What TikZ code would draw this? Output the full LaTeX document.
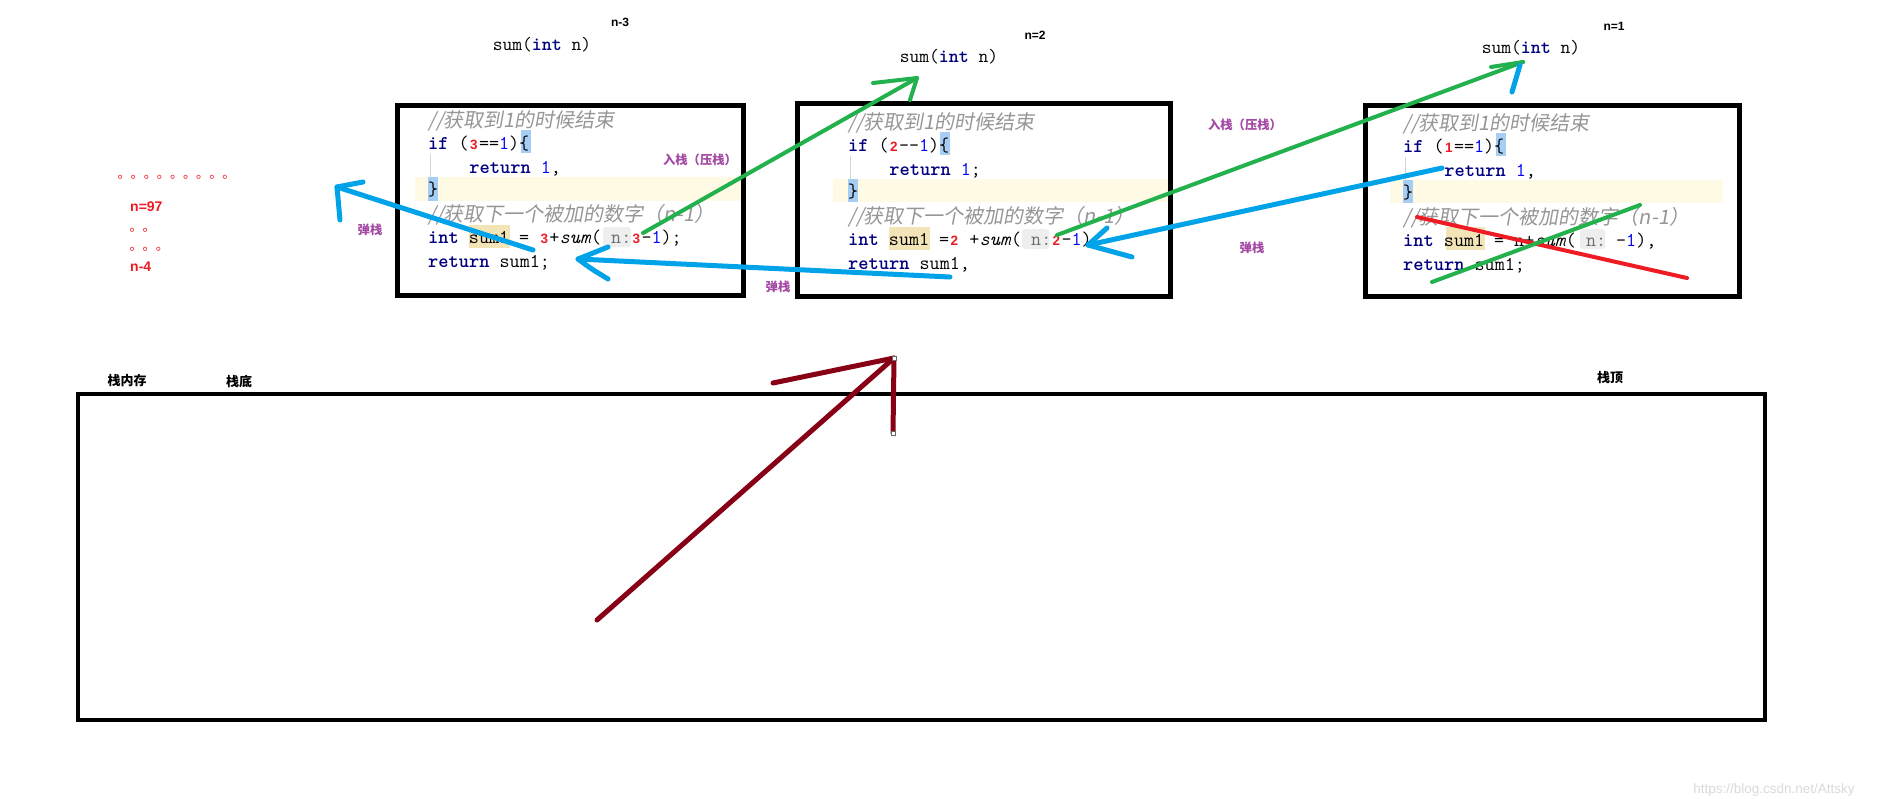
\documentclass[tikz,border=0pt]{standalone}
\usepackage{fontspec}
\newfontfamily\cjk{Noto Sans CJK SC}[FakeSlant=0.18]
\newfontfamily\cjkb{Noto Sans CJK SC}
\newfontfamily\lsans{Liberation Sans}
\newfontfamily\kwf{lmmonolt10-bold.otf}
\definecolor{kwc}{RGB}{0,0,128}
\definecolor{numc}{RGB}{0,0,255}
\definecolor{redc}{RGB}{237,28,36}
\definecolor{cmtc}{RGB}{150,150,150}
\definecolor{hintc}{RGB}{110,110,110}
\definecolor{hintbg}{RGB}{238,238,238}
\definecolor{tanc}{RGB}{242,228,183}
\definecolor{bandc}{RGB}{255,250,227}
\definecolor{bluehl}{RGB}{166,206,245}
\definecolor{guidec}{RGB}{215,215,215}
\definecolor{pgreen}{RGB}{34,177,76}
\definecolor{pblue}{RGB}{0,162,232}
\definecolor{pdred}{RGB}{136,0,21}
\definecolor{ppurple}{RGB}{163,73,164}
\definecolor{wmc}{RGB}{218,218,218}
\newcommand\codefont{\ttfamily\fontsize{19.5}{20}\selectfont}
\newcommand\kw[1]{{\kwf\textcolor{kwc}{#1}}}
\newcommand\nm[1]{\textcolor{numc}{#1}}
\newcommand\hint[1]{\textcolor{hintc}{#1}}
\newcommand\rd[1]{\makebox[0.525em]{\textcolor{redc}{\lsans\bfseries\fontsize{13.5}{13}\selectfont #1}}}
\begin{document}
\begin{tikzpicture}[x=1pt,y=-1pt,
  code/.style={anchor=base west, inner sep=0pt, font=\codefont, text=black},
  cmt/.style={anchor=base west, inner sep=0pt, font=\cjk\fontsize{20}{20}\selectfont, text=cmtc},
  frame/.style={draw=black, line width=5pt, inner sep=0pt},
  sig/.style={inner sep=0pt, font=\ttfamily\fontsize{19}{19}\selectfont},
  nlab/.style={inner sep=0pt, font=\lsans\bfseries\fontsize{12}{12}\selectfont},
  rlab/.style={anchor=west, inner sep=0pt, font=\lsans\bfseries\fontsize{14}{14}\selectfont, text=redc},
  dots/.style={anchor=base west, inner sep=0pt, font=\cjkb\fontsize{13.1}{13}\selectfont, text=redc},
  plab/.style={inner sep=0pt, font=\cjkb\bfseries\fontsize{12.3}{13}\selectfont, text=ppurple},
  blab/.style={inner sep=0pt, font=\cjkb\bfseries\fontsize{13}{13}\selectfont, text=black},
  stroke/.style={line width=4.5pt, line cap=round, line join=round},
  gstroke/.style={stroke, draw=pgreen, line width=4pt},
  bstroke/.style={stroke, draw=pblue, line width=5pt},
  dstroke/.style={stroke, draw=pdred, line width=5pt},
  rstroke/.style={stroke, draw=redc, line width=4pt},
  handle/.style={draw=black!60, fill=white, line width=0.8pt, minimum size=4pt, inner sep=0pt}
]
\useasboundingbox (0,0) rectangle (1877,798);
\fill[white] (0,0) rectangle (1877,798);

% ---------- box 1 content ----------
\begin{scope}[shift={(428,0)}]
 \fill[bandc] (-13,177) rectangle (315,201);
 \fill[bluehl] (0,177) rectangle (10.3,201);
 \fill[bluehl] (92.7,130) rectangle (103,153);
 \draw[guidec, line width=1pt] (2,154) -- (2,177);
 \fill[tanc] (41.2,225) rectangle (82.4,248);
 \fill[hintbg, rounded corners=3pt] (175,227) rectangle (203,247);
 \node[cmt]  (a1) at (0,127) {//获取到1的时候结束};
 \node[code] (a2) at (0,149) {\kw{if} (\rd{3}==\nm{1})\{};
 \node[code] (a3) at (41.2,173) {\kw{return} \nm{1},};
 \node[code] (a4) at (0,195) {\}};
 \node[cmt]  (a5) at (0,221) {//获取下一个被加的数字（n-1）};
 \node[code] (a6) at (0,243) {\kw{int} sum1 = \rd{3}+\textit{sum}(\hint{\ n:}\rd{3}-\nm{1});};
 \node[code] (a7) at (0,267) {\kw{return} sum1;};
\end{scope}

% ---------- box 2 content ----------
\begin{scope}[shift={(848,2)}]
 \fill[bandc] (-15,177) rectangle (320,200);
 \fill[bluehl] (0,177) rectangle (10.3,200);
 \fill[bluehl] (91.5,130) rectangle (101.8,153);
 \draw[guidec, line width=1pt] (2,154) -- (2,177);
 \fill[tanc] (41.2,225) rectangle (82.4,248);
 \fill[hintbg, rounded corners=3pt] (174,227) rectangle (201,247);
 \node[cmt]  (c1) at (0,127) {//获取到1的时候结束};
 \node[code] (c2) at (0,149) {\kw{if} (\rd{2}-{}-\nm{1})\{};
 \node[code] (c3) at (41.2,173) {\kw{return} \nm{1};};
 \node[code] (c4) at (0,195) {\}};
 \node[cmt]  (c5) at (0,221) {//获取下一个被加的数字（n-1）};
 \node[code] (c6) at (0,243) {\kw{int} sum1 =\rd{2} +\textit{sum}(\hint{\ n:}\rd{2}-\nm{1})};
 \node[code] (c7) at (0,267) {\kw{return} sum1,};
\end{scope}

% ---------- box 3 content ----------
\begin{scope}[shift={(1403,3)}]
 \fill[bandc] (-13,177) rectangle (320,200);
 \fill[bluehl] (0,177) rectangle (10.3,200);
 \fill[bluehl] (92.7,130) rectangle (103,153);
 \draw[guidec, line width=1pt] (2,154) -- (2,177);
 \fill[tanc] (43,224) rectangle (82.4,247);
 \fill[hintbg, rounded corners=3pt] (177,226) rectangle (202,246);
 \node[cmt]  (e1) at (0,127) {//获取到1的时候结束};
 \node[code] (e2) at (0,149) {\kw{if} (\rd{1}==\nm{1})\{};
 \node[code] (e3) at (41.2,173) {\kw{return} \nm{1},};
 \node[code] (e4) at (0,195) {\}};
 \node[cmt]  (e5) at (0,221) {//获取下一个被加的数字（n-1）};
 \node[code] (e6) at (0,243) {\kw{int} sum1 = n+\textit{sum}(\hint{\ n:}\ -\nm{1}),};
 \node[code] (e7) at (0,267) {\kw{return} sum1;};
\end{scope}

% ---------- frames ----------
\node[frame, minimum width=346pt, minimum height=190pt] (box1) at (570.5,200.5) {};
\node[frame, minimum width=373pt, minimum height=193pt] (box2) at (984,200) {};
\node[frame, minimum width=374.5pt, minimum height=190.5pt] (box3) at (1552.25,200.75) {};
\node[frame, line width=4pt, minimum width=1687.5pt, minimum height=326.5pt] (stack) at (921.25,556.75) {};

% ---------- signatures ----------
\node[sig] (s1) at (542,45) {sum(\kw{int} n)};
\node[sig] (s2) at (949,57) {sum(\kw{int} n)};
\node[sig] (s3) at (1531,48) {sum(\kw{int} n)};
\node[nlab] (n3) at (620,22) {n-3};
\node[nlab] (n2) at (1035,35) {n=2};
\node[nlab] (n1) at (1614,26) {n=1};

% ---------- left red notes ----------
\node[dots] (d1) at (117.4,178.3) {。。。。。。。。。};
\node[rlab] (n97) at (130,207) {n=97};
\node[dots] (d2) at (129.4,231.3) {。。};
\node[dots] (d3) at (129.4,250.3) {。。。};
\node[rlab] (n4) at (130,267) {n-4};

% ---------- stack labels ----------
\node[blab] (lmem) at (127,381) {栈内存};
\node[blab] (lbot) at (239,382) {栈底};
\node[blab] (ltop) at (1610,378) {栈顶};

% ---------- purple labels ----------
\node[plab] (push1) at (700,160) {入栈（压栈）};
\node[plab] (push2) at (1245,125) {入栈（压栈）};
\node[plab] (pop1) at (370,230) {弹栈};
\node[plab] (pop2) at (778,287) {弹栈};
\node[plab] (pop3) at (1252,248) {弹栈};

% ---------- coordinates ----------
\coordinate (g1s) at (643,233);
\coordinate (g1t) at (917,78);
\coordinate (g1a) at (873,83);
\coordinate (g1b) at (910,100);
\coordinate (g2s) at (1057,235);
\coordinate (g2t) at (1523,62);
\coordinate (g2a) at (1491,67);
\coordinate (g3s) at (1432,282);
\coordinate (g3t) at (1640,205);
\coordinate (r1s) at (1417,217);
\coordinate (r1t) at (1687,278);
\coordinate (b1s) at (1512,92);
\coordinate (b1t) at (1520,65);
\coordinate (b2s) at (1442,168);
\coordinate (b2t) at (1088,245);
\coordinate (b2a) at (1107,228);
\coordinate (b2b) at (1132,257);
\coordinate (b3s) at (950,277);
\coordinate (b3m) at (743,267);
\coordinate (b3t) at (578,259);
\coordinate (b3a) at (608,247);
\coordinate (b3b) at (608,279);
\coordinate (b4s) at (533,250);
\coordinate (b4t) at (337,187);
\coordinate (b4a) at (363,182);
\coordinate (b4b) at (340,220);
\coordinate (ds) at (597,620);
\coordinate (dt) at (894,358);
\coordinate (da) at (773,383);
\coordinate (db) at (893,433);

% ---------- strokes ----------
\draw[gstroke] (g1s) -- (g1t);
\draw[gstroke] (g1a) -- (g1t) -- (g1b);
\draw[gstroke] (g2s) -- (g2t);
\draw[gstroke] (g2a) -- (g2t);
\draw[rstroke] (r1s) -- (r1t);
\draw[gstroke] (g3s) -- (g3t);
\draw[bstroke] (b1s) -- (b1t);
\draw[bstroke] (b2s) -- (b2t);
\draw[bstroke] (b2a) -- (b2t) -- (b2b);
\draw[bstroke] (b3s) -- (b3m) -- (b3t);
\draw[bstroke] (b3a) -- (b3t) .. controls (590,268) .. (b3b);
\draw[bstroke] (b4s) -- (b4t);
\draw[bstroke] (b4a) -- (b4t) -- (b4b);
\draw[dstroke] (ds) -- (dt);
\draw[dstroke] (da) -- (dt) -- (db);
\node[handle] (h1) at (dt) {};
\node[handle] (h2) at (db) {};

% ---------- watermark ----------
\node[inner sep=0pt, font=\lsans\fontsize{13.5}{14}\selectfont, text=wmc] (wm) at (1774,790) {https://blog.csdn.net/Attsky};
\end{tikzpicture}
\end{document}
